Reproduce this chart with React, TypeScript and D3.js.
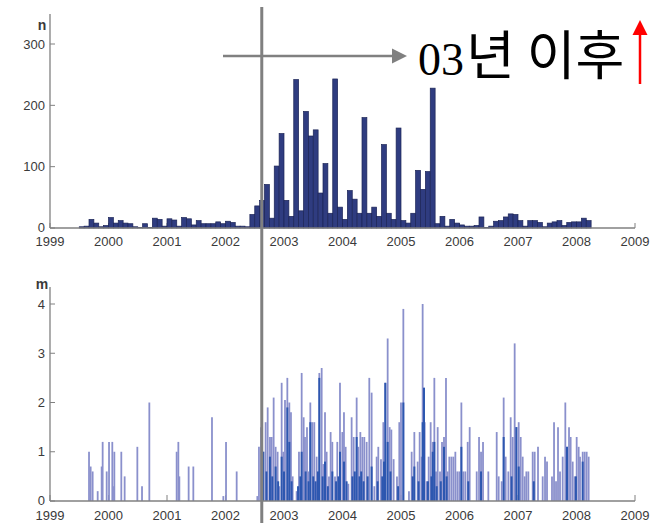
import * as d3 from "d3";

// monthly event counts (n), starting Jan 1999
const countStart = 1999;
const monthlyCounts = [
  0, 0, 0, 0, 0, 0, 2, 3, 14, 8, 2, 4,
  17, 8, 12, 8, 7, 2, 1, 7, 1, 16, 14, 3,
  15, 13, 3, 17, 15, 5, 12, 7, 7, 7, 10, 7,
  11, 9, 3, 3, 2, 22, 36, 45, 71, 16, 101, 154,
  45, 19, 242, 28, 190, 150, 160, 57, 105, 24, 243, 34,
  14, 61, 47, 24, 180, 24, 34, 19, 136, 24, 14, 163,
  12, 8, 24, 94, 63, 92, 228, 7, 19, 3, 14, 8,
  5, 3, 3, 4, 18, 1, 3, 11, 12, 18, 23, 22,
  12, 3, 12, 12, 9, 2, 8, 10, 12, 4, 9, 10,
  10, 16, 12,
];

// individual events: [decimal year, magnitude m]
const events: [number, number][] = [
  [1999.667, 1.0], [1999.695, 0.7], [1999.729, 0.6], [1999.815, 0.2], [1999.883, 0.7],
  [1999.9, 1.2], [1999.969, 0.6], [2000.009, 1.2], [2000.065, 1.2], [2000.077, 0.3],
  [2000.1, 1.0], [2000.219, 1.0], [2000.276, 0.5], [2000.493, 1.1], [2000.573, 0.3],
  [2000.698, 2.0], [2001.165, 1.0], [2001.194, 1.2], [2001.211, 0.5], [2001.37, 0.7],
  [2001.45, 0.7], [2001.769, 1.7], [2001.963, 0.1], [2002.009, 1.2], [2002.191, 0.6],
  [2002.544, 0.1], [2002.572, 1.1], [2002.607, 1.5], [2002.646, 1.0], [2002.686, 1.6],
  [2002.721, 1.9], [2002.76, 1.3], [2002.789, 1.3], [2002.823, 2.1], [2002.857, 1.1],
  [2002.891, 1.0], [2002.92, 0.3], [2002.96, 2.4], [2002.988, 1.0], [2003.017, 2.05],
  [2003.057, 2.5], [2003.091, 2.0], [2003.119, 1.8], [2003.148, 0.5], [2003.216, 0.2],
  [2003.256, 1.0], [2003.302, 2.6], [2003.336, 1.7], [2003.359, 1.3], [2003.393, 1.5],
  [2003.416, 0.6], [2003.45, 2.0], [2003.484, 1.6], [2003.518, 1.6], [2003.558, 0.9],
  [2003.604, 2.6], [2003.644, 2.7], [2003.672, 0.75], [2003.701, 1.8], [2003.729, 1.0],
  [2003.769, 0.5], [2003.797, 1.4], [2003.826, 1.2], [2003.872, 0.5], [2003.911, 1.2],
  [2003.957, 2.4], [2003.997, 1.4], [2004.025, 1.8], [2004.054, 1.1], [2004.1, 0.35],
  [2004.156, 1.7], [2004.191, 1.3], [2004.242, 2.1], [2004.27, 1.1], [2004.305, 1.4],
  [2004.339, 1.3], [2004.373, 1.3], [2004.413, 1.2], [2004.458, 2.5], [2004.498, 2.2],
  [2004.544, 0.3], [2004.584, 0.9], [2004.612, 1.1], [2004.658, 0.85], [2004.698, 1.6],
  [2004.732, 2.4], [2004.772, 3.3], [2004.806, 1.5], [2004.835, 1.45], [2004.874, 0.85],
  [2004.931, 0.5], [2004.971, 1.6], [2005.0, 2.0], [2005.04, 3.9], [2005.136, 0.2],
  [2005.182, 1.0], [2005.228, 1.4], [2005.285, 0.8], [2005.319, 1.4], [2005.353, 0.9],
  [2005.37, 4.0], [2005.393, 2.3], [2005.405, 1.6], [2005.439, 0.4], [2005.473, 0.9],
  [2005.507, 1.6], [2005.542, 1.2], [2005.57, 2.5], [2005.599, 0.6], [2005.627, 1.5],
  [2005.667, 0.6], [2005.701, 1.2], [2005.735, 1.3], [2005.769, 2.5], [2005.798, 0.6],
  [2005.826, 0.9], [2005.861, 0.9], [2005.895, 0.9], [2005.929, 1.0], [2005.963, 0.6],
  [2005.997, 0.6], [2006.032, 2.0], [2006.066, 0.6], [2006.1, 0.6], [2006.14, 1.2],
  [2006.174, 1.5], [2006.294, 0.6], [2006.334, 1.3], [2006.368, 1.0], [2006.402, 1.2],
  [2006.493, 0.6], [2006.636, 1.4], [2006.67, 0.5], [2006.721, 0.4], [2006.755, 2.1],
  [2006.789, 0.9], [2006.835, 0.6], [2006.875, 1.7], [2006.909, 1.3], [2006.943, 3.2],
  [2006.972, 1.5], [2007.012, 1.6], [2007.046, 1.3], [2007.08, 0.9], [2007.114, 0.5],
  [2007.143, 0.6], [2007.177, 0.6], [2007.251, 1.0], [2007.285, 1.0], [2007.342, 1.1],
  [2007.422, 0.5], [2007.462, 0.9], [2007.496, 0.8], [2007.581, 0.5], [2007.616, 1.6],
  [2007.65, 0.4], [2007.684, 1.5], [2007.718, 0.6], [2007.764, 0.9], [2007.809, 2.0],
  [2007.838, 1.1], [2007.872, 1.5], [2007.9, 1.3], [2007.935, 0.8], [2007.969, 0.5],
  [2008.003, 1.3], [2008.037, 1.1], [2008.06, 0.9], [2008.106, 1.0], [2008.14, 1.0],
  [2008.174, 1.0], [2008.208, 0.9],
];

// darker overlapping events near the base
const denseEvents: [number, number][] = [
  [2002.63, 0.5], [2002.646, 1.0], [2002.70, 0.6], [2002.76, 0.9], [2002.80, 0.5],
  [2002.857, 0.7], [2002.90, 0.4], [2002.96, 0.9], [2003.00, 0.6], [2003.057, 1.9],
  [2003.091, 1.2], [2003.13, 0.4], [2003.24, 0.3], [2003.28, 0.5], [2003.302, 1.0],
  [2003.37, 0.6], [2003.42, 0.4], [2003.45, 1.6], [2003.50, 0.5], [2003.54, 0.4],
  [2003.58, 0.6], [2003.604, 2.5], [2003.66, 0.5], [2003.701, 0.8], [2003.75, 0.3],
  [2003.826, 0.6], [2003.89, 0.4], [2003.93, 0.5], [2003.957, 1.0], [2004.025, 0.8],
  [2004.07, 0.4], [2004.17, 0.5], [2004.21, 0.6], [2004.242, 1.3], [2004.29, 0.5],
  [2004.32, 0.6], [2004.36, 0.4], [2004.43, 0.5], [2004.498, 0.7], [2004.60, 0.4],
  [2004.68, 0.5], [2004.71, 0.8], [2004.732, 2.4], [2004.772, 1.2], [2004.82, 0.6],
  [2004.95, 0.3], [2005.04, 2.0], [2005.20, 0.5], [2005.228, 0.7], [2005.30, 0.4],
  [2005.37, 1.6], [2005.393, 2.3], [2005.46, 0.4], [2005.52, 0.5], [2005.542, 1.0],
  [2005.57, 1.2], [2005.61, 0.3], [2005.68, 0.4], [2005.735, 1.1], [2005.78, 0.5],
  [2006.032, 1.1], [2006.15, 0.4], [2006.368, 0.6], [2006.755, 1.3], [2006.89, 0.5],
  [2006.972, 1.5], [2007.012, 0.7], [2007.27, 0.4], [2007.838, 1.1], [2007.99, 0.5],
  [2008.106, 0.8],
];

const yearTicks = [1999, 2000, 2001, 2002, 2003, 2004, 2005, 2006, 2007, 2008, 2009];
const countTicks = [0, 100, 200, 300];
const magTicks = [0, 1, 2, 3, 4];
const markerYear = 2002.62;
const note = ["03", "년 이후"];

const W = 660;
const H = 523;
const axisColor = "#808080";
const labelColor = "#3a3a3a";
const font = "'Liberation Sans', Arial, sans-serif";

export default function App() {
  const x = d3.scaleLinear().domain([1999, 2009]).range([50, 635]);
  const yTop = d3.scaleLinear().domain([0, 300]).range([228, 44]);
  const yBot = d3.scaleLinear().domain([0, 4]).range([501, 304]);
  const monthW = x(1999 + 1 / 12) - x(1999);
  const mx = x(markerYear);

  return (
    <svg
      width={W}
      height={H}
      style={{ position: "absolute", left: 0, top: 0, background: "#fff" }}
      fontFamily={font}
    >
      {/* ---- top panel: monthly counts ---- */}
      <g>
        {yearTicks.map((t) => (
          <line key={"tt" + t} x1={x(t)} x2={x(t)} y1={yTop(0)} y2={yTop(0) - 5} stroke={axisColor} />
        ))}
        {monthlyCounts.map((v, i) =>
          v > 0 ? (
            <rect
              key={"b" + i}
              x={x(countStart + i / 12)}
              y={yTop(v)}
              width={monthW}
              height={yTop(0) - yTop(v)}
              fill="#2f3c80"
              stroke="#1c2456"
              strokeWidth={0.7}
            />
          ) : null
        )}
        <line x1={x(1999)} x2={x(1999)} y1={14} y2={yTop(0)} stroke={axisColor} strokeWidth={1.3} />
        <line x1={x(1999)} x2={x(2009)} y1={yTop(0)} y2={yTop(0)} stroke={axisColor} strokeWidth={1.3} />
        {countTicks.map((v) => (
          <g key={"ct" + v}>
            <line x1={x(1999)} x2={x(1999) + 5} y1={yTop(v)} y2={yTop(v)} stroke={axisColor} />
            <text x={45} y={yTop(v) - (v === 0 ? 1 : 0)} dy="0.35em" textAnchor="end" fontSize={13} fill={labelColor}>
              {v}
            </text>
          </g>
        ))}
        <text x={42} y={25} dy="0.35em" textAnchor="middle" fontSize={14} fontWeight="bold" fill={labelColor}>
          n
        </text>
        {yearTicks.map((t) => (
          <text key={"tl" + t} x={x(t)} y={241} dy="0.35em" textAnchor="middle" fontSize={13} fill={labelColor}>
            {t}
          </text>
        ))}
      </g>

      {/* ---- bottom panel: magnitudes ---- */}
      <g>
        {yearTicks.map((t) => (
          <line key={"bt" + t} x1={x(t)} x2={x(t)} y1={yBot(0)} y2={yBot(0) - 6} stroke={axisColor} />
        ))}
        {events.map(([t, m], i) => (
          <line
            key={"e" + i}
            x1={x(t)}
            x2={x(t)}
            y1={yBot(0)}
            y2={yBot(m)}
            stroke="#8a90cc"
            strokeWidth={1.8}
          />
        ))}
        {denseEvents.map(([t, m], i) => (
          <line
            key={"d" + i}
            x1={x(t)}
            x2={x(t)}
            y1={yBot(0)}
            y2={yBot(m)}
            stroke="#2d57b0"
            strokeWidth={2}
          />
        ))}
        <line x1={x(1999)} x2={x(1999)} y1={287} y2={yBot(0)} stroke={axisColor} strokeWidth={1.3} />
        <line x1={x(1999)} x2={x(2009)} y1={yBot(0)} y2={yBot(0)} stroke={axisColor} strokeWidth={1.3} />
        {magTicks.map((v) => (
          <g key={"mt" + v}>
            <line x1={x(1999)} x2={x(1999) + 5} y1={yBot(v)} y2={yBot(v)} stroke={axisColor} />
            <text x={45} y={yBot(v) - (v === 0 ? 1 : 0)} dy="0.35em" textAnchor="end" fontSize={13} fill={labelColor}>
              {v}
            </text>
          </g>
        ))}
        <text x={42} y={284} dy="0.35em" textAnchor="middle" fontSize={14} fontWeight="bold" fill={labelColor}>
          m
        </text>
        {yearTicks.map((t) => (
          <text key={"bl" + t} x={x(t)} y={515} dy="0.35em" textAnchor="middle" fontSize={13} fill={labelColor}>
            {t}
          </text>
        ))}
      </g>

      {/* ---- annotation ---- */}
      <line x1={mx} x2={mx} y1={7} y2={H} stroke="#808080" strokeWidth={3} />
      <line x1={223} x2={394} y1={56} y2={56} stroke="#808080" strokeWidth={2.6} />
      <path d="M392,48.5 L407,56 L392,63.5 Z" fill="#808080" />
      <text x={418} y={75} fill="#000">
        <tspan fontSize={46} fontFamily="'Liberation Serif', 'Times New Roman', serif">{note[0]}</tspan>
        <tspan fontSize={53} dx={2} fontFamily="'Noto Sans CJK KR', sans-serif">{note[1]}</tspan>
      </text>
      <line x1={640} x2={640} y1={84} y2={33} stroke="#ff0000" strokeWidth={2.5} />
      <path d="M632.5,35 L640,20 L647.5,35 Z" fill="#ff0000" />
    </svg>
  );
}
